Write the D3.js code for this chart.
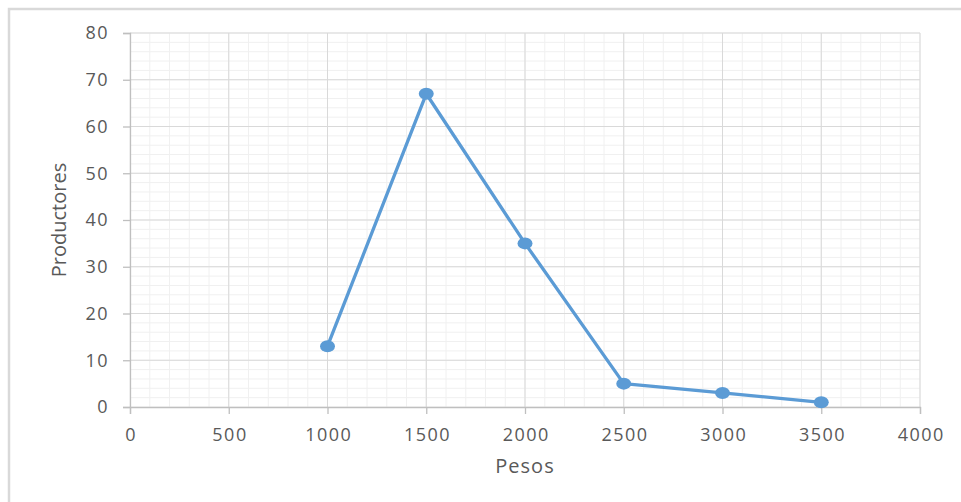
<!DOCTYPE html>
<html><head><meta charset="utf-8">
<script src="https://cdn.jsdelivr.net/npm/d3@7"></script>
<style>body{margin:0;background:#fff}svg{display:block}</style>
</head><body>
<svg id="c" width="961" height="502"></svg>
<script>
const pesos = [1000, 1500, 2000, 2500, 3000, 3500];
const productores = [13, 67, 35, 5, 3, 1];
const xTicks = [0, 500, 1000, 1500, 2000, 2500, 3000, 3500, 4000];
const yTicks = [0, 10, 20, 30, 40, 50, 60, 70, 80];
const xTitle = "Pesos";
const yTitle = "Productores";

const svg = d3.select("#c");
const font = "'Open Sans', 'Noto Sans', sans-serif";
svg.append("rect").attr("x", 9).attr("y", 9).attr("width", 970).attr("height", 510)
  .attr("fill", "#fff").attr("stroke", "#d9d9d9").attr("stroke-width", 2.5);

const x = d3.scaleLinear().domain([0, 4000]).range([130, 920]);
const y = d3.scaleLinear().domain([0, 80]).range([407, 33]);

const g = svg.append("g");
g.selectAll(".mx").data(d3.range(0, 4001, 100)).join("line")
  .attr("x1", d => x(d)).attr("x2", d => x(d)).attr("y1", y(0)).attr("y2", y(80))
  .attr("stroke", "#f0f0f0").attr("stroke-width", 1);
g.selectAll(".my").data(d3.range(0, 81, 2)).join("line")
  .attr("y1", d => y(d)).attr("y2", d => y(d)).attr("x1", x(0)).attr("x2", x(4000))
  .attr("stroke", "#f0f0f0").attr("stroke-width", 1);
g.selectAll(".Mx").data(xTicks.slice(1)).join("line")
  .attr("x1", d => x(d)).attr("x2", d => x(d)).attr("y1", y(0)).attr("y2", y(80))
  .attr("stroke", "#d9d9d9").attr("stroke-width", 1);
g.selectAll(".My").data(yTicks.slice(1)).join("line")
  .attr("y1", d => y(d)).attr("y2", d => y(d)).attr("x1", x(0)).attr("x2", x(4000))
  .attr("stroke", "#d9d9d9").attr("stroke-width", 1);

const xa = svg.append("g").attr("transform", `translate(0,${y(0)})`)
  .call(d3.axisBottom(x).tickValues(xTicks).tickSize(7).tickPadding(10).tickFormat(d3.format("d")));
const ya = svg.append("g").attr("transform", `translate(${x(0)},0)`)
  .call(d3.axisLeft(y).tickValues(yTicks).tickSize(7).tickPadding(14).tickFormat(d3.format("d")));
[xa, ya].forEach(a => {
  a.select(".domain").attr("stroke", "#bfbfbf").attr("stroke-width", 1.3);
  a.selectAll(".tick line").attr("stroke", "#bfbfbf").attr("stroke-width", 1.3);
  a.selectAll("text").attr("fill", "#595959").style("font-family", font)
    .style("font-size", "18px").style("letter-spacing", "1.5px");
});
xa.selectAll("text").attr("dy", "0.95em").attr("dx", "0.75");

const pts = pesos.map((p, i) => [p, productores[i]]);
svg.append("path").datum(pts)
  .attr("d", d3.line().x(d => x(d[0])).y(d => y(d[1])))
  .attr("fill", "none").attr("stroke", "#5b9bd5").attr("stroke-width", 3.3).attr("stroke-linejoin", "round");
svg.selectAll(".pt").data(pts).join("ellipse")
  .attr("cx", d => x(d[0])).attr("cy", d => y(d[1])).attr("rx", 7.5).attr("ry", 6)
  .attr("fill", "#5b9bd5");

svg.append("text").attr("x", 525).attr("y", 473).attr("text-anchor", "middle")
  .attr("fill", "#595959").style("font-family", font).style("font-size", "20px")
  .style("letter-spacing", "1px").text(xTitle);
svg.append("text").attr("transform", "translate(66,220) rotate(-90)").attr("text-anchor", "middle")
  .attr("fill", "#595959").style("font-family", font).style("font-size", "20px").text(yTitle);
</script>
</body></html>
